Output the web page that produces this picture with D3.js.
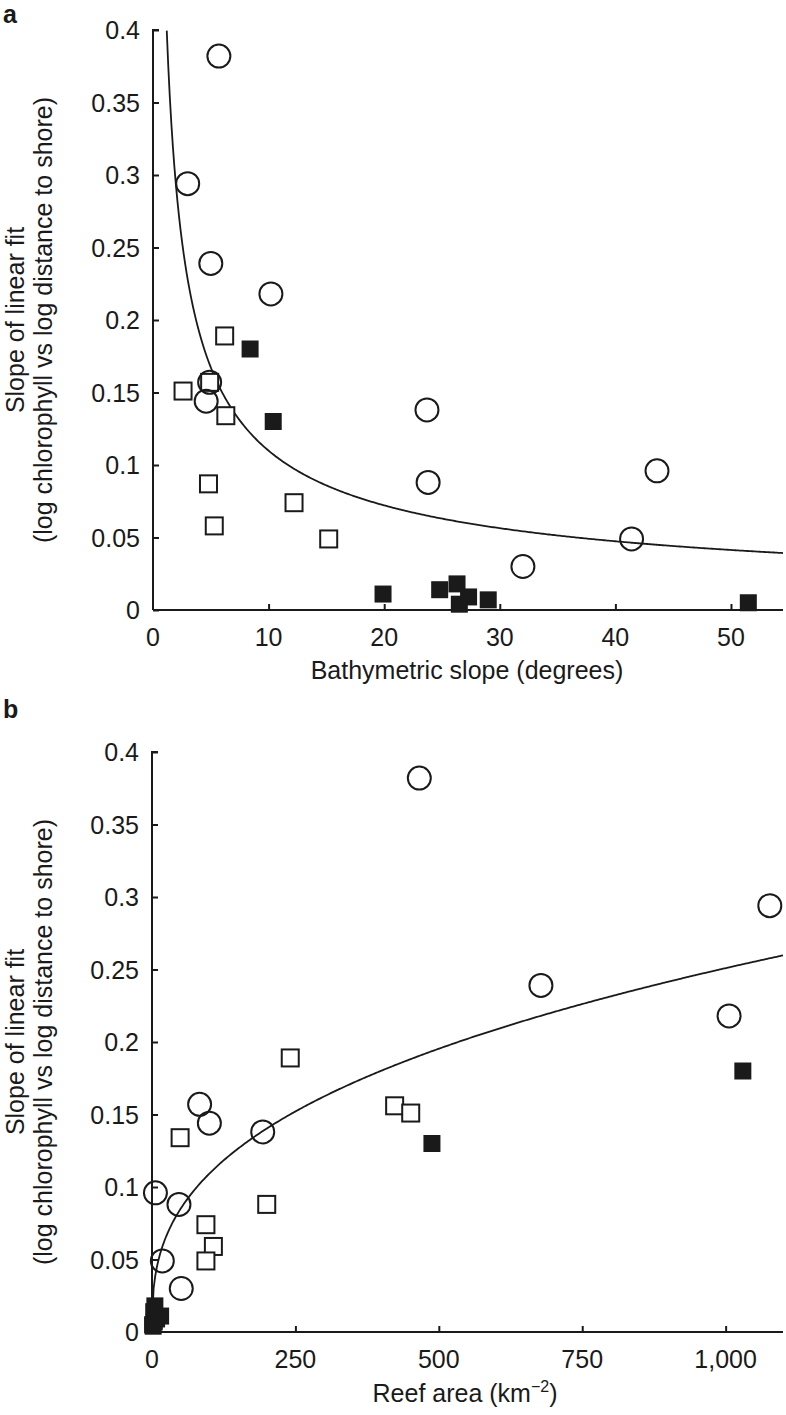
<!DOCTYPE html>
<html>
<head>
<meta charset="utf-8">
<script src="https://cdn.jsdelivr.net/npm/d3@7"></script>
<style>
  body { margin: 0; background: #fff; }
  svg text { font-family: "Liberation Sans", Arial, sans-serif; fill: #1a1a1a; }
</style>
</head>
<body>
<div id="chart"></div>
<script>
// ---- data ----
// panel a: bathymetric slope (degrees) vs slope of linear fit
const aCircleX = [5.7, 3.0, 5.0, 10.2, 4.9, 4.6, 23.7, 23.8, 43.6, 41.4, 32.0];
const aCircleY = [0.382, 0.294, 0.239, 0.218, 0.157, 0.144, 0.138, 0.088, 0.096, 0.049, 0.030];
const aOpenSqX = [6.2, 2.6, 4.9, 6.3, 4.8, 5.3, 12.2, 15.2];
const aOpenSqY = [0.189, 0.151, 0.157, 0.134, 0.087, 0.058, 0.074, 0.049];
const aFillSqX = [8.4, 10.4, 19.9, 24.8, 26.3, 26.5, 27.3, 29.0, 51.5];
const aFillSqY = [0.180, 0.130, 0.011, 0.014, 0.018, 0.004, 0.009, 0.007, 0.005];
// power-law fit y = k * x^p
const aFitK = 0.444, aFitP = -0.6065;

// panel b: reef area vs slope of linear fit
const bCircleX = [466, 1077, 678, 1006, 83, 100, 193, 6, 47, 18, 51];
const bCircleY = [0.382, 0.294, 0.239, 0.218, 0.157, 0.144, 0.138, 0.096, 0.088, 0.049, 0.030];
const bOpenSqX = [241, 423, 451, 49, 200, 94, 107, 94];
const bOpenSqY = [0.189, 0.156, 0.151, 0.134, 0.088, 0.074, 0.059, 0.049];
const bFillSqX = [1030, 488, 15, 3, 5, 2, 8, 4, 1];
const bFillSqY = [0.180, 0.130, 0.011, 0.014, 0.018, 0.004, 0.009, 0.007, 0.005];
const bFitK = 0.0207, bFitP = 0.3612;

const yTicks = [0, 0.05, 0.1, 0.15, 0.2, 0.25, 0.3, 0.35, 0.4];
const yTickLabels = ["0", "0.05", "0.1", "0.15", "0.2", "0.25", "0.3", "0.35", "0.4"];
const aXTicks = [0, 10, 20, 30, 40, 50];
const bXTicks = [0, 250, 500, 750, 1000];
const bXTickLabels = ["0", "250", "500", "750", "1,000"];

const W = 786, H = 1415;
const ink = "#1a1a1a";
const fontSize = 25;

const svg = d3.select("#chart").append("svg")
  .attr("width", W).attr("height", H);

function zip(xs, ys) { return xs.map((x, i) => ({x: x, y: ys[i]})); }

function drawPanel(opt) {
  const x = d3.scaleLinear().domain(opt.xDomain).range([opt.left, opt.right]);
  const y = d3.scaleLinear().domain([0, 0.4]).range([opt.bottom, opt.top]);
  const g = svg.append("g");

  // y axis, ticks inward
  const yAxis = g.append("g")
    .attr("transform", "translate(" + opt.left + ",0)")
    .call(d3.axisRight(y).tickValues(yTicks).tickSize(6).tickFormat(""));
  yAxis.select(".domain").attr("d", "M" + 6 + "," + y(0.4) + "H0V" + y(0));
  yAxis.selectAll("line").attr("stroke", ink).attr("stroke-width", 2);
  yAxis.select(".domain").attr("stroke", ink).attr("stroke-width", 2);

  g.selectAll(".ylab").data(yTicks).enter().append("text")
    .attr("x", opt.left - 13)
    .attr("y", d => y(d))
    .attr("dy", "0.36em")
    .attr("text-anchor", "end")
    .style("font-size", fontSize + "px")
    .text((d, i) => yTickLabels[i]);

  // x axis, ticks inward
  const xAxis = g.append("g")
    .attr("transform", "translate(0," + opt.bottom + ")")
    .call(d3.axisTop(x).tickValues(opt.xTicks.filter(d => d > 0)).tickSize(6).tickFormat(""));
  xAxis.select(".domain").attr("d", "M" + opt.left + ",0H" + opt.right);
  xAxis.selectAll("line").attr("stroke", ink).attr("stroke-width", 2);
  xAxis.select(".domain").attr("stroke", ink).attr("stroke-width", 2);

  g.selectAll(".xlab").data(opt.xTicks).enter().append("text")
    .attr("x", d => x(d))
    .attr("y", opt.bottom + 36)
    .attr("text-anchor", "middle")
    .style("font-size", fontSize + "px")
    .text((d, i) => opt.xTickLabels[i]);

  // fitted curve
  const xs = d3.range(opt.curveFrom, opt.xDomain[1], (opt.xDomain[1] - opt.curveFrom) / 400).concat([opt.xDomain[1]]);
  const line = d3.line().x(d => x(d)).y(d => y(opt.k * Math.pow(d, opt.p)));
  g.append("path")
    .datum(xs)
    .attr("d", line)
    .attr("fill", "none")
    .attr("stroke", ink)
    .attr("stroke-width", 1.8);

  // markers
  const side = 17;
  g.selectAll(".osq").data(zip(opt.openX, opt.openY)).enter().append("rect")
    .attr("x", d => x(d.x) - side / 2).attr("y", d => y(d.y) - side / 2)
    .attr("width", side).attr("height", side)
    .attr("fill", "#fff").attr("stroke", ink).attr("stroke-width", 2);
  g.selectAll(".circ").data(zip(opt.circX, opt.circY)).enter().append("circle")
    .attr("cx", d => x(d.x)).attr("cy", d => y(d.y)).attr("r", 11.5)
    .attr("fill", "none").attr("stroke", ink).attr("stroke-width", 2);
  g.selectAll(".fsq").data(zip(opt.fillX, opt.fillY)).enter().append("rect")
    .attr("x", d => x(d.x) - side / 2).attr("y", d => y(d.y) - side / 2)
    .attr("width", side).attr("height", side)
    .attr("fill", ink);

  // y axis title, two lines
  const cy = (opt.top + opt.bottom) / 2;
  g.append("text")
    .attr("transform", "translate(24," + cy + ") rotate(-90)")
    .attr("text-anchor", "middle")
    .style("font-size", fontSize + "px")
    .text("Slope of linear fit");
  g.append("text")
    .attr("transform", "translate(52," + cy + ") rotate(-90)")
    .attr("text-anchor", "middle")
    .style("font-size", fontSize + "px")
    .text("(log chlorophyll vs log distance to shore)");

  // panel letter
  g.append("text")
    .attr("x", 3).attr("y", opt.letterY)
    .style("font-size", "25px").style("font-weight", "bold")
    .text(opt.letter);

  return x;
}

drawPanel({
  letter: "a", letterY: 23,
  left: 153, right: 783, top: 30, bottom: 610,
  xDomain: [0, 54.5], xTicks: aXTicks, xTickLabels: aXTicks.map(String),
  k: aFitK, p: aFitP, curveFrom: 1.19,
  circX: aCircleX, circY: aCircleY, openX: aOpenSqX, openY: aOpenSqY, fillX: aFillSqX, fillY: aFillSqY
});
svg.append("text")
  .attr("x", 467).attr("y", 679)
  .attr("text-anchor", "middle")
  .style("font-size", fontSize + "px")
  .text("Bathymetric slope (degrees)");

drawPanel({
  letter: "b", letterY: 718,
  left: 152, right: 783, top: 752, bottom: 1332,
  xDomain: [0, 1100], xTicks: bXTicks, xTickLabels: bXTickLabels,
  k: bFitK, p: bFitP, curveFrom: 0.05,
  circX: bCircleX, circY: bCircleY, openX: bOpenSqX, openY: bOpenSqY, fillX: bFillSqX, fillY: bFillSqY
});
const bt = svg.append("text")
  .attr("x", 465).attr("y", 1402)
  .attr("text-anchor", "middle")
  .style("font-size", fontSize + "px");
bt.append("tspan").text("Reef area (km");
bt.append("tspan").attr("dy", -10).style("font-size", "16px").text("\u22122");
bt.append("tspan").attr("dy", 10).text(")");
</script>
</body>
</html>
